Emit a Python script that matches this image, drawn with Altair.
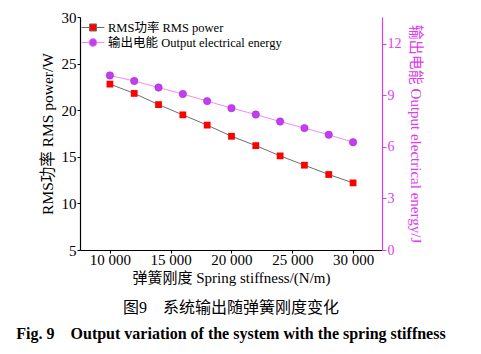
import altair as alt
import pandas as pd

stiffness = [10000, 12000, 14000, 16000, 18000, 20000, 22000, 24000, 26000, 28000, 30000]
rms_power = [22.8, 21.8, 20.6, 19.5, 18.4, 17.2, 16.2, 15.1, 14.1, 13.1, 12.2]
energy = [10.15, 9.83, 9.45, 9.07, 8.66, 8.25, 7.88, 7.47, 7.09, 6.70, 6.27]
x_ticks = [10000, 15000, 20000, 25000, 30000]
left_ticks = [5, 10, 15, 20, 25, 30]
right_ticks = [0, 3, 6, 9, 12]
series_names = ["RMS功率 RMS power", "输出电能 Output electrical energy"]

FONT = "'Liberation Serif', 'Times New Roman', 'Noto Sans CJK SC', serif"
MAG = "#dd3cf2"

df = pd.DataFrame({"k": stiffness, "p": rms_power, "e": energy, "s": series_names[0]})

x = alt.X("k:Q", scale=alt.Scale(domain=[7540, 32380], nice=False, zero=False),
          axis=alt.Axis(values=x_ticks, title="弹簧刚度 Spring stiffness/(N/m)",
                        labelExpr="replace(format(datum.value, ','), ',', ' ')",
                        grid=False, tickSize=3, labelPadding=-1, titlePadding=3,
                        titleFontSize=15,
                        domainColor="black", tickColor="black"))

yl = alt.Y("p:Q", scale=alt.Scale(domain=[5, 30], nice=False, zero=False),
           axis=alt.Axis(values=left_ticks, title="RMS功率 RMS power/W", grid=False,
                         tickSize=3, labelPadding=1, titlePadding=6, titleFontSize=15.5,
                         domainColor="black", tickColor="black"))
yr = alt.Y("e:Q", scale=alt.Scale(domain=[0, 13.55], nice=False, zero=True),
           axis=alt.Axis(values=right_ticks, title="输出电能 Output electrical energy/J",
                         orient="right", grid=False, tickSize=4, labelPadding=1,
                         labelFontSize=14, titleFontSize=15,
                         titlePadding=6, domainColor=MAG, tickColor=MAG,
                         labelColor=MAG, titleColor=MAG))

legend = alt.Legend(title=None, orient="none", legendX=5, legendY=2.5,
                    symbolOpacity=1, symbolSize=225, symbolStrokeWidth=1,
                    labelFontSize=12.5, labelFont=FONT, labelOffset=7, labelLimit=0,
                    rowPadding=-3, padding=0)

base = alt.Chart(df)
red_line = base.mark_line(color="#6e6e6e", strokeWidth=1).encode(x=x, y=yl)
red_pts = base.mark_point(shape="square", filled=True, color="#ff0000", size=46, opacity=1).encode(x=x, y=yl)

legend_layer = base.mark_point(filled=True, opacity=0).encode(
    x=x, y=yl,
    fill=alt.Fill("s:N", scale=alt.Scale(domain=series_names, range=["#ff0000", "#c23ef0"]), legend=legend),
    stroke=alt.Stroke("s:N", scale=alt.Scale(domain=series_names, range=["#6e6e6e", "#ee88f5"]), legend=legend),
    shape=alt.Shape("s:N", scale=alt.Scale(domain=series_names, range=[
        "M-1.53,0H-0.47M0.47,0H1.53M-0.47,-0.47H0.47V0.47H-0.47Z",
        "M-1.53,0H-0.53M0.53,0H1.53M-0.53,0A0.53,0.53 0 1 1 0.53,0A0.53,0.53 0 1 1 -0.53,0Z"]),
                    legend=legend),
)

left = alt.layer(red_line, red_pts, legend_layer)

pur_line = base.mark_line(color="#f08cf5", strokeWidth=1).encode(x=x, y=yr)
pur_pts = base.mark_circle(color="#c23ef0", size=55, opacity=1, stroke="#a020d0", strokeWidth=0.5).encode(x=x, y=yr)
right = alt.layer(pur_line, pur_pts)

chart = alt.layer(left, right).resolve_scale(y="independent").properties(
    width=302, height=233,
    background="white",
    autosize=alt.AutoSizeParams(type="none"),
    padding={"left": 80, "top": 17, "right": 99, "bottom": 104},
    title=alt.TitleParams(
        text="图9　系统输出随弹簧刚度变化",
        subtitle="Fig. 9\u2002\u2002Output variation of the system with the spring stiffness",
        orient="bottom", anchor="middle", font=FONT, fontSize=16, fontWeight="normal",
        color="black", subtitleFont=FONT, subtitleFontSize=16, subtitleFontWeight="bold",
        subtitleColor="black", subtitlePadding=10, offset=15),
).configure_view(stroke=None).configure_axis(
    labelFont=FONT, titleFont=FONT, labelFontSize=15, titleFontSize=15,
    titleFontWeight="normal", labelColor="black", titleColor="black", domainWidth=1.2,
)

chart.save("out.html", embed_options={"renderer": "svg", "actions": False})
